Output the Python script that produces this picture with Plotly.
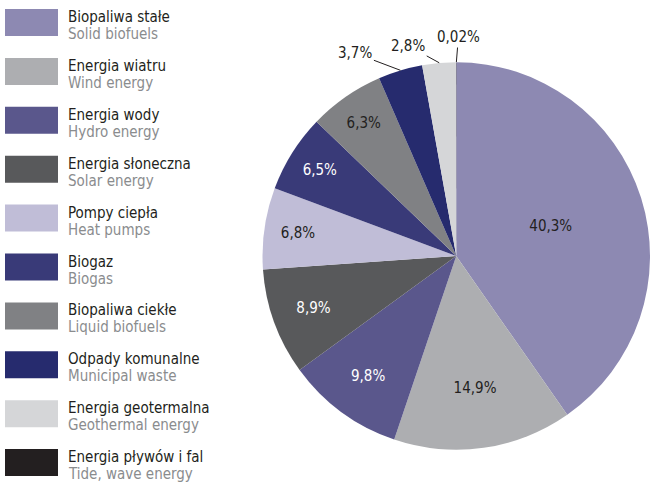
import math
import plotly.graph_objects as go

# Data
labels_pl = ["Biopaliwa stałe", "Energia wiatru", "Energia wody", "Energia słoneczna",
             "Pompy ciepła", "Biogaz", "Biopaliwa ciekłe", "Odpady komunalne",
             "Energia geotermalna", "Energia pływów i fal"]
labels_en = ["Solid biofuels", "Wind energy", "Hydro energy", "Solar energy",
             "Heat pumps", "Biogas", "Liquid biofuels", "Municipal waste",
             "Geothermal energy", "Tide, wave energy"]
shares = [40.3, 14.9, 9.8, 8.9, 6.8, 6.5, 6.3, 3.7, 2.8, 0.02]

colors = ["#8D89B2", "#ADAEB1", "#5A578C", "#58595B", "#C0BDD7",
          "#393A78", "#808184", "#262B6E", "#D5D6D8", "#231F20"]
text_colors = ["#231F20", "#231F20", "#FFFFFF", "#FFFFFF", "#231F20",
               "#FFFFFF", "#231F20", "#231F20", "#231F20", "#231F20"]
outside = [False] * 7 + [True] * 3

FONT = "DejaVu Sans Condensed, Liberation Sans Narrow, sans-serif"
W, H = 650, 486

fmt = [str(v).replace(".", ",") + "%" for v in shares]

# pie geometry (px)
cx, cy, r = 456.5, 256, 194
dom_x = [(cx - r) / W, 1.0]
dom_y = [1 - (cy + r) / H, 1 - (cy - r) / H]

fig = go.Figure()
fig.add_trace(go.Pie(
    labels=labels_en,
    values=shares,
    text=["" if o else t for t, o in zip(fmt, outside)],
    textinfo="text",
    textposition=["none" if o else "inside" for o in outside],
    insidetextorientation="horizontal",
    insidetextfont=dict(family=FONT, size=15, color=text_colors),
    marker=dict(colors=colors, line=dict(width=0)),
    sort=False,
    direction="clockwise",
    rotation=0,
    showlegend=False,
    hoverinfo="label+text",
    domain=dict(x=dom_x, y=dom_y),
))

# leader-line labels for the small slices
offsets = {7: (-45, -17), 8: (-31, -17), 9: (2, -25)}
total = sum(shares)
cum = 0
for i, v in enumerate(shares):
    mid = (cum + v / 2) / total * 2 * math.pi
    cum += v
    if not outside[i]:
        continue
    px = cx + r * math.sin(mid)
    py = cy - r * math.cos(mid)
    ax, ay = offsets[i]
    fig.add_annotation(
        x=px / W, y=1 - py / H, xref="paper", yref="paper",
        text=fmt[i], showarrow=True, arrowhead=0, arrowwidth=1,
        arrowcolor="#231F20", ax=ax, ay=ay, standoff=0,
        font=dict(family=FONT, size=15, color="#231F20"),
    )

# custom legend: wide swatches with Polish / English labels
for i in range(len(labels_pl)):
    top = 9 + i * 48.9
    fig.add_shape(type="rect", xref="paper", yref="paper",
                  x0=5 / W, x1=58 / W, y0=1 - (top + 27) / H, y1=1 - top / H,
                  fillcolor=colors[i], line=dict(width=0))
    fig.add_annotation(x=66 / W, y=1 - (top + 8) / H, xref="paper", yref="paper",
                       text=labels_pl[i], showarrow=False, xanchor="left", yanchor="middle",
                       font=dict(family=FONT, size=15, color="#231F20"))
    fig.add_annotation(x=66 / W, y=1 - (top + 25) / H, xref="paper", yref="paper",
                       text=labels_en[i], showarrow=False, xanchor="left", yanchor="middle",
                       font=dict(family=FONT, size=15, color="#8A8C8E"))

fig.update_layout(
    width=W, height=H,
    margin=dict(l=0, r=0, t=0, b=0),
    paper_bgcolor="white",
    plot_bgcolor="white",
)

fig.write_html("out.html", config={"displayModeBar": False},
               post_script="document.body.style.margin='0';")
